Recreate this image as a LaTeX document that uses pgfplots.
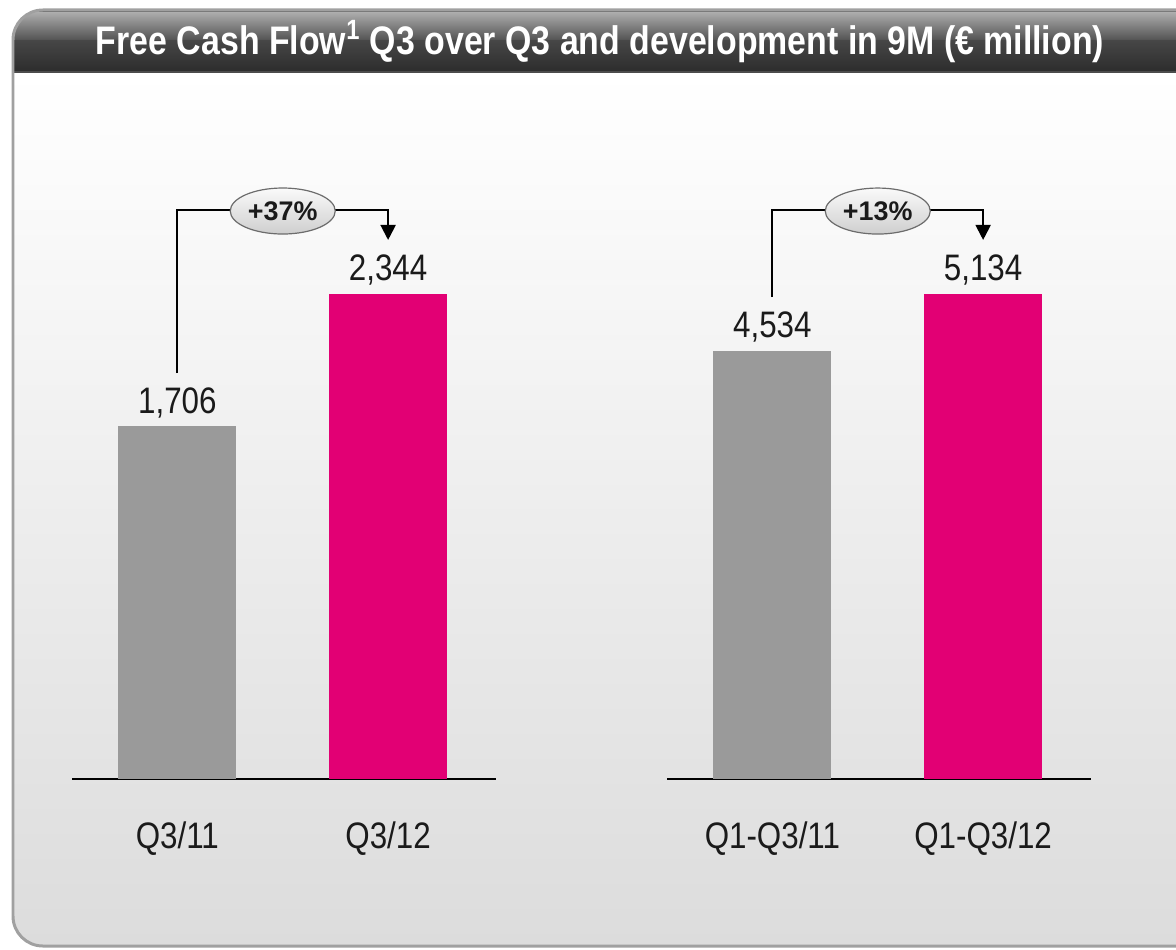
\documentclass[border=0pt]{standalone}
\usepackage{fontspec}
\setmainfont{Liberation Sans}[FakeStretch=0.85]
\newfontfamily\pctfont{Liberation Sans}
\usepackage{pgfplots}
\pgfplotsset{compat=1.18}
\usetikzlibrary{arrows.meta,shapes.geometric}
\definecolor{barg}{HTML}{9A9A9A}
\definecolor{barm}{HTML}{E20074}
\definecolor{bodybot}{HTML}{DCDCDC}
\definecolor{frame}{HTML}{A0A0A0}
\definecolor{tA}{HTML}{B4B4B4}
\definecolor{tB}{HTML}{505050}
\definecolor{tC}{HTML}{464646}
\definecolor{tD}{HTML}{2C2C2C}
\definecolor{txt}{HTML}{1A1A1A}
\pgfplotsset{
  barax/.style={
    anchor=south west, scale only axis, width=212bp, height=242.5bp,
    xmin=-0.5, xmax=1.512, ymin=0,
    hide y axis, axis x line*=bottom,
    axis line style={line width=1bp, black, -},
    xtick={0,1}, major tick length=0pt,
    xticklabel style={anchor=base, yshift=-34.5bp, font=\fontsize{18.5}{21}\selectfont, text=txt},
    ybar, bar width=59bp, bar shift=0pt, clip=false,
    point meta=explicit symbolic, nodes near coords,
    every node near coord/.append style={anchor=base, inner sep=0pt, yshift=6.5bp,
      font=\fontsize{18.5}{21}\selectfont, text=txt},
  },
}
\tikzset{
  pct/.style={ellipse, draw=gray!85!black, line width=0.6bp, top color=gray!4, bottom color=gray!38,
    minimum width=52.5bp, minimum height=23bp, inner sep=0pt,
    font=\pctfont\bfseries\fontsize{13.5}{15}\selectfont, text=txt},
  brk/.style={line width=1bp, black, -{Triangle[width=7.5bp,length=7.5bp]}},
}
\begin{document}
\begin{tikzpicture}[x=0.5bp,y=0.5bp]
\useasboundingbox (0,0) rectangle (1176,949);
\clip (0,0) rectangle (1176,949);
\fill[white] (0,0) rectangle (1176,949);
\begin{scope}
\clip[rounded corners=15] (13,3) rectangle (1240,939);
\shade[top color=white, bottom color=bodybot] (13,3) rectangle (1240,877);
\shade[top color=tA, bottom color=tB] (13,908) rectangle (1240,939);
\shade[top color=tC, bottom color=tD] (13,877) rectangle (1240,908);
\draw[black!60, line width=1] (13,938) -- (1240,938);
\draw[black!70, line width=1] (13,877) -- (1240,877);
\end{scope}
\draw[frame, line width=1.5, rounded corners=15] (13,3) rectangle (1240,939);
\node[text=white, font=\bfseries\fontsize{20}{24}\selectfont] at (600,907) {Free Cash Flow\textsuperscript{1} Q3 over Q3 and development in 9M (€ million)};
\coordinate (LA) at (72,170);
\coordinate (RA) at (667,170);

\begin{axis}[barax, at={(LA)}, ymax=2344, xticklabels={Q3/11,Q3/12}]
\addplot[fill=barg, draw=none] coordinates {(0,1706) [1{,}706]};
\addplot[fill=barm, draw=none] coordinates {(1,2344) [2{,}344]};
\draw[brk] (axis cs:0,1962) |- (axis cs:1,2750) -- (axis cs:1,2605);
\node[pct] at (axis cs:0.5,2745) {+37\%};
\end{axis}

\begin{axis}[barax, at={(RA)}, ymax=5134, xticklabels={Q1-Q3/11,Q1-Q3/12}]
\addplot[fill=barg, draw=none] coordinates {(0,4534) [4{,}534]};
\addplot[fill=barm, draw=none] coordinates {(1,5134) [5{,}134]};
\draw[brk] (axis cs:0,5102) |- (axis cs:1,6022) -- (axis cs:1,5706);
\node[pct] at (axis cs:0.5,6012) {+13\%};
\end{axis}
\end{tikzpicture}
\end{document}
